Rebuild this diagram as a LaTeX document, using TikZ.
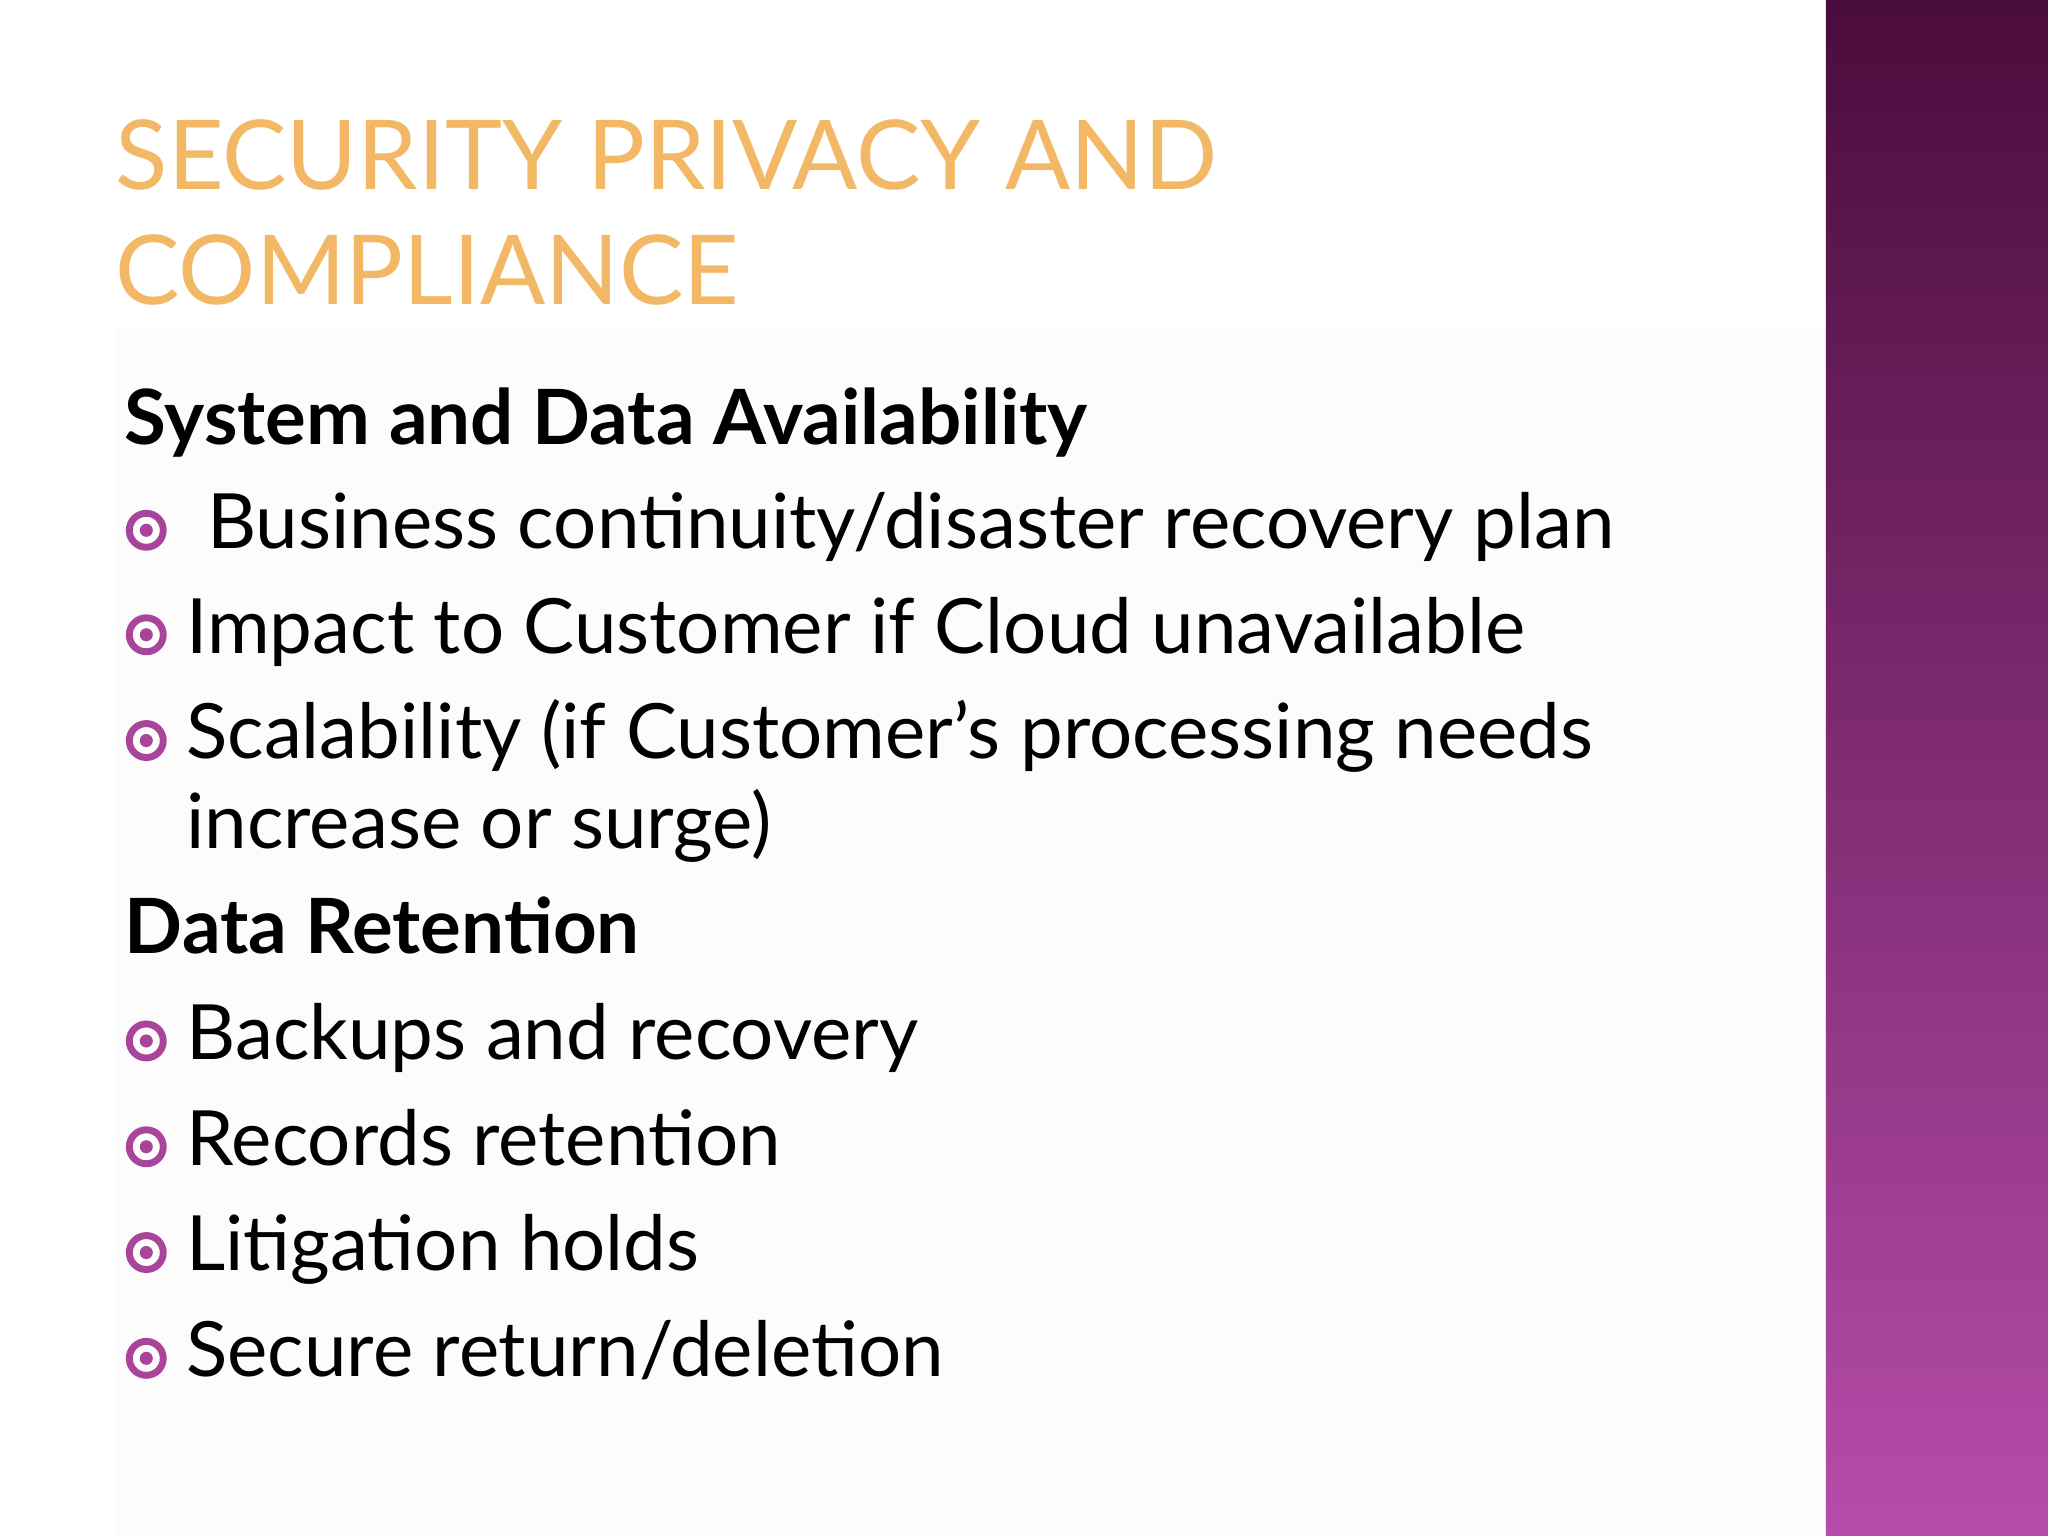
\documentclass[tikz,border=0pt]{standalone}
\usepackage{fontspec}
\setmainfont{Lato}
\definecolor{ttl}{HTML}{F2B866}
\definecolor{bul}{HTML}{A8449A}
\definecolor{bartop}{HTML}{4A0C3C}
\definecolor{barbot}{HTML}{B64CAA}
\begin{document}
\begin{tikzpicture}[x=0.01cm,y=-0.01cm,
  txt/.style={anchor=base west,inner sep=0pt,font=\fontsize{16.6}{20}\selectfont},
  hd/.style={txt,font=\fontsize{16.6}{20}\selectfont\bfseries},
  tt/.style={anchor=base west,inner sep=0pt,text=ttl,font=\fontsize{21}{26}\selectfont},
  bl/.style={circle,draw=bul,line width=1.5pt,minimum size=0.26cm,inner sep=0pt,
    path picture={\fill[bul] (path picture bounding box.center) circle (0.05cm);}}]
\useasboundingbox (0,0) rectangle (1568,1176);
\fill[white] (0,0) rectangle (1568,1176);
\fill[gray!2] (88,250) rectangle (1398,1176);
\shade[top color=bartop,bottom color=barbot] (1398,0) rectangle (1568,1176);
\node[tt] (t1) at (88,145) {SECURITY PRIVACY AND};
\node[tt] (t2) at (88,233) {COMPLIANCE};
\node[hd] (h1) at (95,340) {System and Data Availability};
\node[bl] (b1) at (112,406) {};
\node[txt] (l1) at (158,420) {Business continuity/disaster recovery plan};
\node[bl] (b2) at (112,486) {};
\node[txt] (l2) at (142,500) {Impact to Customer if Cloud unavailable};
\node[bl] (b3) at (112,567) {};
\node[txt] (l3) at (142,581) {Scalability (if Customer’s processing needs};
\node[txt] (l3b) at (142,650) {increase or surge)};
\node[hd] (h2) at (95,730) {Data Retention};
\node[bl] (b4) at (112,797) {};
\node[txt] (l4) at (142,811) {Backups and recovery};
\node[bl] (b5) at (112,878) {};
\node[txt] (l5) at (142,892) {Records retention};
\node[bl] (b6) at (112,959) {};
\node[txt] (l6) at (142,973) {Litigation holds};
\node[bl] (b7) at (112,1040) {};
\node[txt] (l7) at (142,1054) {Secure return/deletion};
\end{tikzpicture}
\end{document}
